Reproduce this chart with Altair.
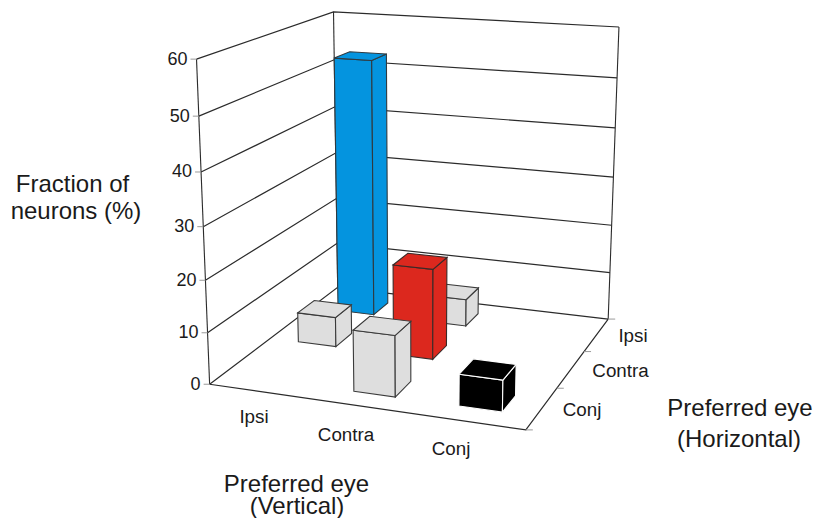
import altair as alt
import numpy as np
import pandas as pd

# Fraction of neurons (%) per preferred-eye pair
vertical_eye = ["Ipsi", "Contra", "Conj"]
horizontal_eye = ["Conj", "Contra", "Ipsi"]
bar_vertical = ["Ipsi", "Ipsi", "Contra", "Contra", "Contra", "Conj"]
bar_horizontal = ["Ipsi", "Contra", "Ipsi", "Contra", "Conj", "Conj"]
bar_percent = [53.0, 6.0, 5.6, 18.0, 11.7, 6.0]
bar_color = ["#0494df", "#dedede", "#dedede", "#dc281e", "#dedede", "#000000"]
bar_edge = ["#2f3a40", "#3a3a3a", "#3a3a3a", "#3a2a28", "#3a3a3a", "#ffffff"]
percent_ticks = [0, 10, 20, 30, 40, 50, 60]

# Camera: where the corners of the 3 x 3 x 60 box fall on the page
box_world = [(0, 0, 0), (3, 0, 0), (3, 3, 0), (0, 3, 0), (0, 0, 60), (0, 3, 60), (3, 3, 60)]
box_page = [(209.3, 384), (526, 430), (608, 319), (338, 287.5),
            (196.7, 59.3), (333.3, 11.7), (619, 27)]


def solve_camera(world, page):
    rows = []
    for (u, v, h), (x, y) in zip(world, page):
        rows.append([u, v, h, 1, 0, 0, 0, 0, -x * u, -x * v, -x * h, -x])
        rows.append([0, 0, 0, 0, u, v, h, 1, -y * u, -y * v, -y * h, -y])
    return np.linalg.svd(np.array(rows, float))[2][-1].reshape(3, 4)


CAMERA = solve_camera(box_world, box_page)


def project(u, v, h=0.0):
    x, y, w = CAMERA @ np.array([u, v, h, 1.0])
    return [float(x / w), float(y / w)]


def feature(points, kind, fill="none", stroke="none", width=1.0):
    if kind == "LineString":
        geometry = {"type": "LineString", "coordinates": points}
    else:
        geometry = {"type": "Polygon", "coordinates": [points + [points[0]]]}
    return {"type": "Feature", "geometry": geometry,
            "properties": {"fill": fill, "stroke": stroke, "width": width}}


FRAME = "#2b2b2b"
TICK = "#9a9a9a"
shapes = []

# Grid lines along the left and back walls
for p in percent_ticks:
    shapes.append(feature([project(0, 0, p), project(0, 3, p), project(3, 3, p)], "LineString",
                          stroke=FRAME, width=1.2))
# Box edges
shapes.append(feature([project(0, 0), project(0, 0, 60)], "LineString", stroke=FRAME, width=1.1))
shapes.append(feature([project(0, 3), project(0, 3, 60)], "LineString", stroke=FRAME, width=1.1))
shapes.append(feature([project(3, 3), project(3, 3, 60)], "LineString", stroke=FRAME, width=1.1))
shapes.append(feature([project(0, 0), project(3, 0), project(3, 3)], "LineString", stroke=FRAME, width=1.2))

# Tick marks on the percent axis and the depth axis
for p in percent_ticks:
    a = project(0, 0, p)
    shapes.append(feature([[a[0] - 6, a[1]], a], "LineString", stroke=TICK, width=1.0))
for k in range(4):
    a = project(3, k)
    shapes.append(feature([a, [a[0] + 7, a[1]]], "LineString", stroke=TICK, width=1.0))

# Bars, painted from the back of the floor towards the front
half = 0.2
order = sorted(range(len(bar_percent)),
               key=lambda i: (-horizontal_eye.index(bar_horizontal[i]), vertical_eye.index(bar_vertical[i])))
for i in order:
    cu = vertical_eye.index(bar_vertical[i]) + 0.5
    cv = horizontal_eye.index(bar_horizontal[i]) + 0.5
    h = bar_percent[i]
    u0, u1, v0, v1 = cu - half, cu + half, cv - half, cv + half
    fill, edge = bar_color[i], bar_edge[i]
    shapes.append(feature([project(u0, v0), project(u1, v0), project(u1, v0, h), project(u0, v0, h)],
                          "Polygon", fill, edge, 1.1))
    shapes.append(feature([project(u1, v0), project(u1, v1), project(u1, v1, h), project(u1, v0, h)],
                          "Polygon", fill, edge, 1.1))
    shapes.append(feature([project(u0, v0, h), project(u1, v0, h), project(u1, v1, h), project(u0, v1, h)],
                          "Polygon", fill, edge, 1.1))

geometry_layer = alt.Chart(alt.Data(values=shapes)).mark_geoshape().encode(
    fill=alt.Fill("properties.fill:N", scale=None),
    stroke=alt.Stroke("properties.stroke:N", scale=None),
    strokeWidth=alt.StrokeWidth("properties.width:Q", scale=None),
).project(type="identity", scale=1, translate=[0, 0])

# Text table
labels = []
for p in percent_ticks:
    a = project(0, 0, p)
    labels.append({"t": str(p), "x": a[0] - 9, "y": a[1] + 0.5, "s": 18, "a": "right"})
for name, x, y in zip(vertical_eye, [254, 346, 451], [417, 435, 449]):
    labels.append({"t": name, "x": x, "y": y, "s": 18.8, "a": "center"})
for name, x, y in zip(horizontal_eye, [582, 620.5, 633], [410, 371, 336]):
    labels.append({"t": name, "x": x, "y": y, "s": 18.8, "a": "center"})
for text, x, y in [("Fraction of", 72.5, 185), ("neurons (%)", 76, 212),
                   ("Preferred eye", 296.5, 485), ("(Vertical)", 297, 507),
                   ("Preferred eye", 740, 409), ("(Horizontal)", 739, 440)]:
    labels.append({"t": text, "x": x, "y": y, "s": 24, "a": "center"})
label_frame = pd.DataFrame(labels)


def text_layer(align):
    return alt.Chart(label_frame[label_frame["a"] == align]).mark_text(
        align=align, baseline="middle", font="Liberation Sans", color="#1a1a1a"
    ).encode(
        x=alt.X("x:Q", scale=None, axis=None),
        y=alt.Y("y:Q", scale=None, axis=None),
        text="t:N",
        size=alt.Size("s:Q", scale=None, legend=None),
    )


chart = alt.layer(geometry_layer, text_layer("right"), text_layer("center")).properties(
    width=816, height=518, padding=0, autosize=alt.AutoSizeParams(type="none"), background="white"
).configure_view(stroke=None)

chart.save("out.html", embed_options={"renderer": "svg", "actions": False})
